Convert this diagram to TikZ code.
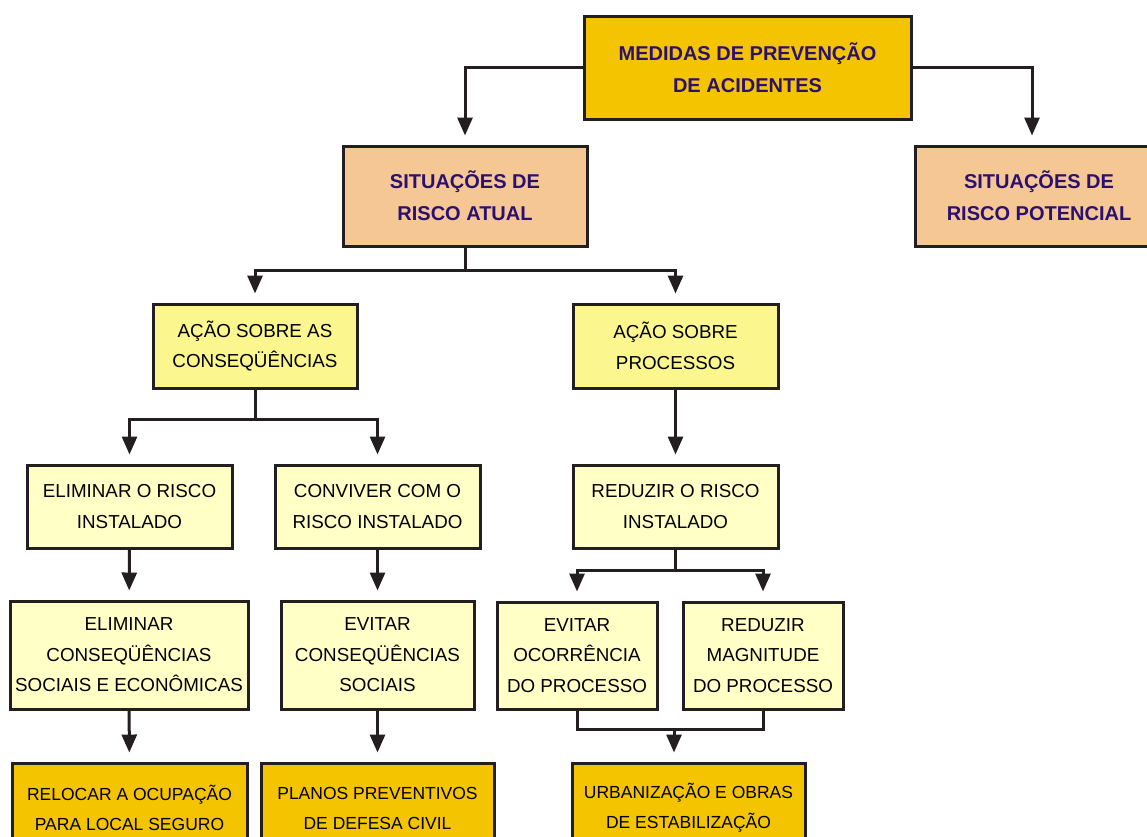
\documentclass[tikz,border=0pt]{standalone}
\usepackage{fontspec}
\setmainfont{Liberation Sans}
\usetikzlibrary{arrows.meta, positioning, calc}

\definecolor{boxgold}{HTML}{F5C400}
\definecolor{boxpeach}{HTML}{F4C795}
\definecolor{boxyellow}{HTML}{FBF68E}
\definecolor{boxpale}{HTML}{FFFFC6}
\definecolor{titleblue}{HTML}{2B1070}
\definecolor{lineblack}{HTML}{231F20}

\begin{document}
\begin{tikzpicture}[x=1pt, y=-1pt,
    box/.style={rectangle, draw=lineblack, line width=3pt, inner sep=0pt, align=center, font=\fontsize{18.8}{30.5}\selectfont},
    measure/.style={box, fill=boxgold, font=\fontsize{17.5}{30}\selectfont},
    head/.style={box, text=titleblue, font=\fontsize{20}{32}\selectfont\bfseries},
    link/.style={line width=3pt, draw=lineblack},
    arr/.style={link, -{Triangle[width=15pt,length=18pt]}, shorten >=9pt}]
    \clip (0,0) rectangle (1147,836);
    % top level
    \node[head, fill=boxgold, minimum width=327pt, minimum height=103pt] (medidas) at (747.5,67.5) {MEDIDAS DE PREVENÇÃO\\DE ACIDENTES};
    \node[head, fill=boxpeach, minimum width=244pt, minimum height=100pt] (atual) at (465,196) {SITUAÇÕES DE\\RISCO ATUAL};
    \node[head, fill=boxpeach, minimum width=248pt, minimum height=100pt] (potencial) at (1039,196) {SITUAÇÕES DE\\RISCO POTENCIAL};
    % actions
    \node[box, fill=boxyellow, minimum width=204pt, minimum height=84pt] (conseq) at (255,346) {AÇÃO SOBRE AS\\CONSEQÜÊNCIAS};
    \node[box, fill=boxyellow, minimum width=205pt, minimum height=84pt] (proc) at (675.5,346) {AÇÃO SOBRE\\PROCESSOS};
    \node[box, fill=boxpale, minimum width=205pt, minimum height=83pt] (elimrisco) at (129.5,506.5) {ELIMINAR O RISCO\\INSTALADO};
    \node[box, fill=boxpale, minimum width=205pt, minimum height=83pt] (conviver) at (377.5,506.5) {CONVIVER COM O\\RISCO INSTALADO};
    \node[box, fill=boxpale, minimum width=205pt, minimum height=83pt] (reduzir) at (675.5,506.5) {REDUZIR O RISCO\\INSTALADO};
    \node[box, fill=boxpale, minimum width=238pt, minimum height=108pt] (elimconseq) at (129,655) {ELIMINAR\\CONSEQÜÊNCIAS\\SOCIAIS E ECONÔMICAS};
    \node[box, fill=boxpale, minimum width=193pt, minimum height=108pt] (evitconseq) at (377.5,655) {EVITAR\\CONSEQÜÊNCIAS\\SOCIAIS};
    \node[box, fill=boxpale, minimum width=160pt, minimum height=107pt] (evitocorr) at (577,655.5) {EVITAR\\OCORRÊNCIA\\DO PROCESSO};
    \node[box, fill=boxpale, minimum width=160pt, minimum height=107pt] (magnitude) at (763,655.5) {REDUZIR\\MAGNITUDE\\DO PROCESSO};
    % measures
    \node[measure, minimum width=235pt, minimum height=90pt] (relocar) at (129.5,808) {RELOCAR A OCUPAÇÃO\\PARA LOCAL SEGURO};
    \node[measure, minimum width=233pt, minimum height=90pt] (planos) at (377.5,808) {PLANOS PREVENTIVOS\\DE DEFESA CIVIL};
    \node[measure, minimum width=233pt, minimum height=90pt] (urban) at (688.5,808) {URBANIZAÇÃO E OBRAS\\DE ESTABILIZAÇÃO};

    \draw[arr] (medidas.west) -| (atual.north);
    \draw[arr] (medidas.east) -| ([xshift=-7pt]potencial.north);
    \draw[link] (atual.south) -- ++(0,23) coordinate (ja);
    \draw[arr] (ja) -| (conseq.north);
    \draw[arr] (ja) -| (proc.north);
    \draw[link] (conseq.south) -- ++(0,30) coordinate (jb);
    \draw[arr] (jb) -| (elimrisco.north);
    \draw[arr] (jb) -| (conviver.north);
    \draw[arr] (proc) -- (reduzir);
    \draw[arr] (elimrisco) -- (elimconseq);
    \draw[arr] (conviver) -- (evitconseq);
    \draw[link] (reduzir.south) -- ++(0,21) coordinate (jc);
    \draw[arr] (jc) -| (evitocorr.north);
    \draw[arr] (jc) -| (magnitude.north);
    \draw[arr] (elimconseq) -- (relocar);
    \draw[arr] (evitconseq) -- (planos);
    \draw[link] (evitocorr.south) -- ++(0,19) -| (magnitude.south);
    \coordinate (jd) at ($(evitocorr.south)!0.5!(magnitude.south) + (4,19)$);
    \draw[arr] (jd) -- (jd |- urban.north);
\end{tikzpicture}
\end{document}
